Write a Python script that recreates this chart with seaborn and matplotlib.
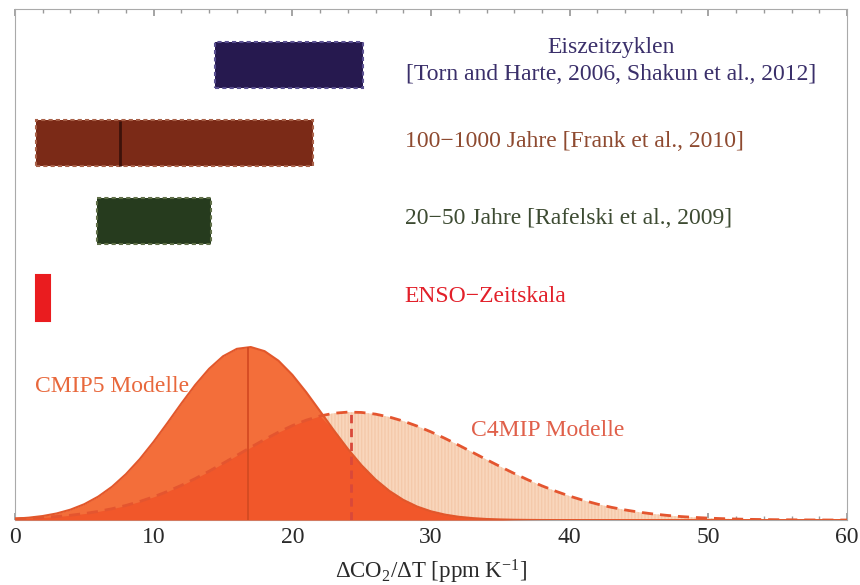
import numpy as np
import seaborn as sns
import matplotlib.pyplot as plt

# x grid for the model distributions (ppm/K)
xgrid = list(range(0, 61))

# CMIP5 distribution (arbitrary height units)
cmip5_density = [0.0027, 0.0047, 0.0079, 0.0129, 0.0204, 0.0311, 0.0459, 0.0653, 0.0899, 0.1194,
                 0.1534, 0.1904, 0.2284, 0.2647, 0.2963, 0.3207, 0.3353, 0.3388, 0.3307, 0.3120,
                 0.2844, 0.2505, 0.2132, 0.1754, 0.1394, 0.1070, 0.0794, 0.0570, 0.0395, 0.0264,
                 0.0171, 0.0107, 0.0064, 0.0038, 0.0021, 0.0012, 0.0006, 0.0003, 0.0001, 0.0,
                 0.0, 0.0, 0.0, 0.0, 0.0, 0.0, 0.0, 0.0, 0.0, 0.0,
                 0.0, 0.0, 0.0, 0.0, 0.0, 0.0, 0.0, 0.0, 0.0, 0.0, 0.0]

# C4MIP distribution
c4mip_density = [0.0024, 0.0035, 0.0049, 0.0069, 0.0094, 0.0127, 0.0169, 0.0222, 0.0286, 0.0364,
                 0.0455, 0.0561, 0.0680, 0.0813, 0.0957, 0.1110, 0.1267, 0.1425, 0.1578, 0.1721,
                 0.1849, 0.1956, 0.2038, 0.2092, 0.2114, 0.2107, 0.2074, 0.2017, 0.1938, 0.1840,
                 0.1726, 0.1600, 0.1465, 0.1325, 0.1184, 0.1046, 0.0912, 0.0786, 0.0670, 0.0564,
                 0.0468, 0.0385, 0.0312, 0.0250, 0.0198, 0.0155, 0.0120, 0.0092, 0.0069, 0.0052,
                 0.0038, 0.0028, 0.0020, 0.0014, 0.0010, 0.0007, 0.0005, 0.0003, 0.0002, 0.0001, 0.0001]

cmip5_centre = 16.8
c4mip_centre = 24.2

# observational ranges
range_labels = ["Eiszeitzyklen\n[Torn and Harte, 2006, Shakun et al., 2012]",
                "100\u22121000 Jahre [Frank et al., 2010]",
                "20\u221250 Jahre [Rafelski et al., 2009]",
                "ENSO\u2212Zeitskala"]
range_low = [14.4, 1.5, 5.9, 1.5]
range_high = [25.1, 21.5, 14.1, 2.5]
range_level = [0.891, 0.738, 0.586, 0.434]
frank_best = 7.6

face_cols = ["#26194f", "#7b2a17", "#263b1e", "#ea1c1f"]
edge_cols = ["#5a5090", "#a86048", "#5f6f48", "#ea1c1f"]
text_cols = ["#3a2f6a", "#8e4a30", "#3d4b32", "#e2202a"]

FS = 17

sns.set_theme(style="ticks")
plt.rcParams['font.family'] = ['Liberation Serif', 'DejaVu Serif']
plt.rcParams['mathtext.fontset'] = 'custom'
plt.rcParams['mathtext.rm'] = 'Liberation Serif'
plt.rcParams['mathtext.it'] = 'Liberation Serif:italic'

fig = plt.figure(figsize=(8.6, 5.85), dpi=100)
ax = fig.add_axes([0.0174, 0.111, 0.9676, 0.873])

x = np.array(xgrid)
c5 = np.array(cmip5_density)
c4 = np.array(c4mip_density)

# fills
ax.fill_between(x, 0, c4, facecolor="#f9d6bc", edgecolor="#f4c9aa", hatch="|||||", lw=0, zorder=1)
ax.fill_between(x, 0, c5, color="#f36e3a", lw=0, zorder=2)
ax.fill_between(x, 0, np.minimum(c4, c5), color="#f1572a", lw=0, zorder=3)

sns.lineplot(x=x, y=c4, ax=ax, color="#e4552f", lw=2, ls=(0, (4, 2.5)), zorder=5)
sns.lineplot(x=x, y=c5, ax=ax, color="#e2572b", lw=1.5, zorder=5)
ax.vlines(cmip5_centre, 0, max(cmip5_density), color="#d44a22", lw=1.3, zorder=6)
ax.vlines(c4mip_centre, 0, max(c4mip_density), color="#d9483a", lw=2, ls=(0, (3, 2)), zorder=6)

# floating bars
for lo, hi, yl, fc, ec in zip(range_low, range_high, range_level, face_cols, edge_cols):
    ls = "-" if fc == ec else (0, (2, 1.5))
    ax.barh(yl, hi - lo, left=lo, height=0.09, color=fc, edgecolor=ec, lw=1.5, ls=ls, zorder=4)
ax.vlines(frank_best, range_level[1] - 0.044, range_level[1] + 0.044, color="#3d120a", lw=2, zorder=5)

# labels
ax.text(43.0, 0.899, range_labels[0], ha="center", va="center", color=text_cols[0],
        fontsize=FS, linespacing=1.4)
for lab, yl, col in zip(range_labels[1:], range_level[1:], text_cols[1:]):
    ax.text(28.1, yl + 0.004, lab, ha="left", va="center", color=col, fontsize=FS)
ax.text(1.45, 0.262, "CMIP5 Modelle", ha="left", va="center", color="#e8683c", fontsize=FS, zorder=7)
ax.text(32.9, 0.176, "C4MIP Modelle", ha="left", va="center", color="#e0604a", fontsize=FS, zorder=7)

ax.set_xlim(0, 60)
ax.set_ylim(0, 1)
ax.set_xticks(range(0, 61, 10))
ax.set_xticks(range(0, 61, 2), minor=True)
ax.set_yticks([])
ax.tick_params(axis="x", which="both", direction="in", top=True, colors="#999999",
               labelcolor="#2a2a2a", labelsize=FS, pad=5)
ax.tick_params(axis="x", which="major", length=5)
ax.tick_params(axis="x", which="minor", length=3)
for sp in ax.spines.values():
    sp.set_visible(True)
    sp.set_color("#aaaaaa")
    sp.set_linewidth(0.8)
ax.set_ylabel("")
ax.set_xlabel(r"$\Delta$CO$_2$/$\Delta$T [ppm K$^{-1}$]", fontsize=16.5, color="#2a2a2a", labelpad=7)

fig.savefig("out.png", dpi=100)
